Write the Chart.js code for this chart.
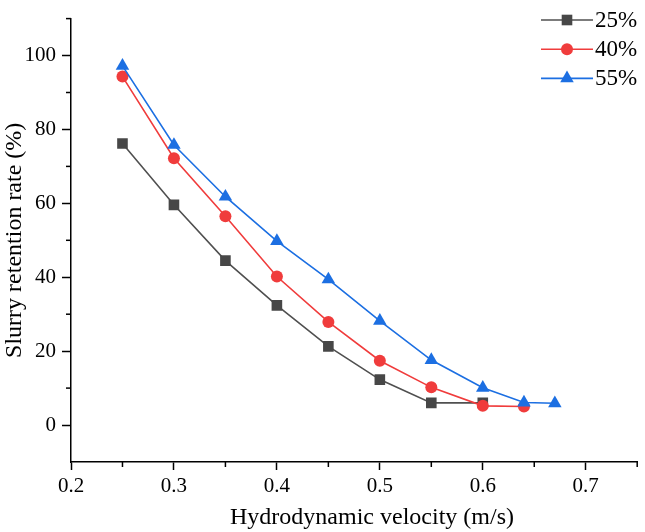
<!DOCTYPE html>
<html><head><meta charset="utf-8">
<script src="https://cdn.jsdelivr.net/npm/chart.js@4.4.1/dist/chart.umd.min.js"></script>
<style>html,body{margin:0;padding:0;background:#fff}</style>
</head><body>
<canvas id="c" width="645" height="532" style="width:645px;height:532px;display:block"></canvas>
<script>
// ---- data ----
const seriesLabels = ['25%', '40%', '55%'];
const velocity25 = [0.25, 0.30, 0.35, 0.40, 0.45, 0.50, 0.55, 0.60];
const retention25 = [76.2, 59.6, 44.5, 32.4, 21.3, 12.3, 6.0, 6.0];
const velocity40 = [0.25, 0.30, 0.35, 0.40, 0.45, 0.50, 0.55, 0.60, 0.64];
const retention40 = [94.3, 72.2, 56.5, 40.2, 27.9, 17.4, 10.2, 5.2, 5.0];
const velocity55 = [0.25, 0.30, 0.35, 0.40, 0.45, 0.50, 0.55, 0.60, 0.64, 0.67];
const retention55 = [97.2, 75.8, 61.8, 49.8, 39.4, 28.2, 17.6, 10.1, 6.1, 5.9];
const xMajorTicks = [0.2, 0.3, 0.4, 0.5, 0.6, 0.7];
const xMinorTicks = [0.25, 0.35, 0.45, 0.55, 0.65, 0.75];
const yMajorTicks = [0, 20, 40, 60, 80, 100];
const yMinorTicks = [10, 30, 50, 70, 90, 110];
const xTitle = 'Hydrodynamic velocity (m/s)';
const yTitle = 'Slurry retention rate (%)';

const FONT = "'Liberation Serif', 'Times New Roman', serif";
const pts = (xs, ys) => xs.map((x, i) => ({x: x, y: ys[i]}));

const styles = [
  {line: '#505050', fill: '#474747', style: 'rect', r: 7.5},
  {line: '#f03c3c', fill: '#f03c3c', style: 'circle', r: 6},
  {line: '#1c6fe2', fill: '#1c6fe2', style: 'triangle', r: 7.8}
];
const seriesData = [pts(velocity25, retention25), pts(velocity40, retention40), pts(velocity55, retention55)];

const datasets = seriesData.map((d, i) => ({
  label: seriesLabels[i],
  data: d,
  borderColor: styles[i].line,
  backgroundColor: styles[i].fill,
  borderWidth: 1.6,
  pointStyle: styles[i].style,
  pointRadius: styles[i].r,
  pointHoverRadius: styles[i].r,
  pointBackgroundColor: styles[i].fill,
  pointBorderColor: styles[i].fill,
  pointBorderWidth: 0,
  tension: 0,
  order: 2 - i
}));

const decorPlugin = {
  id: 'decor',
  afterDraw(chart) {
    const {ctx, scales: {x, y}} = chart;
    ctx.save();
    // minor ticks
    ctx.strokeStyle = '#000';
    ctx.lineWidth = 1.5;
    xMinorTicks.forEach(v => {
      const px = x.getPixelForValue(v);
      ctx.beginPath(); ctx.moveTo(px, x.top); ctx.lineTo(px, x.top + 5); ctx.stroke();
    });
    yMinorTicks.forEach(v => {
      const py = y.getPixelForValue(v);
      ctx.beginPath(); ctx.moveTo(y.right, py); ctx.lineTo(y.right - 5, py); ctx.stroke();
    });
    // x axis title
    ctx.fillStyle = '#000';
    ctx.font = '24px ' + FONT;
    ctx.textAlign = 'center';
    ctx.textBaseline = 'middle';
    ctx.fillText(xTitle, 372, 518);
    // legend
    chart.data.datasets.forEach((ds, i) => {
      const yy = 20 + i * 29.2;
      ctx.strokeStyle = ds.borderColor;
      ctx.lineWidth = 1.6;
      ctx.beginPath(); ctx.moveTo(541, yy); ctx.lineTo(593, yy); ctx.stroke();
      ctx.fillStyle = ds.pointBackgroundColor;
      Chart.helpers.drawPoint(ctx, {pointStyle: ds.pointStyle, rotation: 0, radius: ds.pointRadius, borderWidth: 0}, 567, yy);
      ctx.fillStyle = '#000';
      ctx.font = '23px ' + FONT;
      ctx.textBaseline = 'middle';
      ctx.textAlign = 'left';
      ctx.fillText(ds.label, 595, yy + 1);
    });
    ctx.restore();
  }
};

new Chart(document.getElementById('c'), {
  type: 'line',
  data: {datasets: datasets},
  options: {
    responsive: false,
    devicePixelRatio: 1,
    animation: false,
    layout: {padding: {top: 3, right: 3, left: 0, bottom: 0}},
    plugins: {legend: {display: false}, tooltip: {enabled: false}},
    scales: {
      x: {
        type: 'linear',
        min: 0.2, max: 0.75,
        afterBuildTicks: s => { s.ticks = xMajorTicks.map(v => ({value: v})); },
        afterFit: s => { s.height = 70; },
        grid: {display: true, drawOnChartArea: false, drawTicks: true, tickLength: 8, tickColor: '#000', tickWidth: 1.5},
        border: {display: true, color: '#000', width: 1.5},
        ticks: {color: '#000', font: {family: FONT, size: 21}, padding: 4, maxRotation: 0,
          callback: v => Number(v).toFixed(1)},
        title: {display: false}
      },
      y: {
        type: 'linear',
        min: -10, max: 110,
        afterBuildTicks: s => { s.ticks = yMajorTicks.map(v => ({value: v})); },
        afterFit: s => { s.width = 71; },
        grid: {display: true, drawOnChartArea: false, drawTicks: true, tickLength: 9, tickColor: '#000', tickWidth: 1.5},
        border: {display: true, color: '#000', width: 1.5},
        ticks: {color: '#000', font: {family: FONT, size: 21}, padding: 6,
          callback: v => String(v)},
        title: {display: true, text: yTitle, color: '#000',
          font: {family: FONT, size: 24}, padding: {top: 0, bottom: 0}}
      }
    }
  },
  plugins: [decorPlugin]
});
</script>
</body></html>
